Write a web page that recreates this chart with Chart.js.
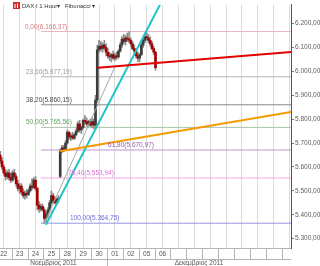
<!DOCTYPE html>
<html>
<head>
<meta charset="utf-8">
<script src="https://cdn.jsdelivr.net/npm/chart.js@4.4.0/dist/chart.umd.min.js"></script>
<style>
html, body { margin: 0; padding: 0; background: #fff; }
#wrap { width: 320px; height: 266px; position: relative; }
</style>
</head>
<body>
<div id="wrap"><canvas id="myChart"></canvas></div>
<script>
// DAX hourly candles, 9 per trading day, index 0 = 22 Nov 09:00
const HOURS = 9;
const firstCandle = 2;

const openP = [
    5650, 5625, 5600, 5575, 5560, 5575, 5555,
    5545, 5575, 5560, 5530, 5510, 5520, 5495, 5480, 5490,
    5485, 5500, 5520, 5515, 5545, 5510, 5440, 5425, 5435,
    5420, 5385, 5400, 5420, 5450, 5480, 5460, 5450, 5465,
    5560, 5665, 5680, 5675, 5700, 5745, 5725, 5730, 5720,
    5735, 5750, 5780, 5755, 5765, 5795, 5790, 5780, 5790,
    5775, 5790, 5775, 5880, 6090, 6105, 6095, 6110, 6100,
    6080, 6065, 6060, 6070, 6055, 6065, 6060, 6085, 6110,
    6135, 6125, 6140, 6135, 6130, 6115, 6095, 6085, 6065,
    6055, 6070, 6110, 6130, 6145, 6140, 6130, 6115, 6095,
    6080
];
const highP = [
    5665, 5640, 5610, 5590, 5585, 5590, 5575,
    5585, 5590, 5570, 5545, 5530, 5530, 5510, 5500, 5505,
    5510, 5530, 5550, 5555, 5560, 5515, 5455, 5445, 5445,
    5430, 5410, 5430, 5460, 5500, 5490, 5475, 5470, 5480,
    5675, 5690, 5690, 5710, 5755, 5750, 5740, 5745, 5740,
    5760, 5790, 5795, 5770, 5800, 5815, 5805, 5795, 5800,
    5805, 5800, 5900, 6110, 6130, 6125, 6120, 6130, 6115,
    6095, 6080, 6075, 6085, 6075, 6080, 6090, 6120, 6145,
    6155, 6150, 6160, 6166.37, 6140, 6125, 6110, 6095, 6080,
    6075, 6120, 6140, 6160, 6162, 6155, 6145, 6125, 6105,
    6085
];
const lowP = [
    5615, 5590, 5565, 5545, 5550, 5545, 5535,
    5540, 5550, 5520, 5500, 5490, 5485, 5470, 5465, 5470,
    5480, 5495, 5505, 5510, 5500, 5420, 5410, 5415, 5415,
    5364.75, 5370, 5390, 5410, 5440, 5450, 5445, 5440, 5450,
    5555, 5660, 5665, 5670, 5695, 5715, 5710, 5715, 5715,
    5730, 5745, 5745, 5740, 5760, 5780, 5770, 5770, 5770,
    5765, 5760, 5765, 5870, 6080, 6085, 6080, 6090, 6065,
    6055, 6045, 6040, 6050, 6045, 6050, 6055, 6080, 6100,
    6115, 6110, 6125, 6120, 6105, 6090, 6075, 6055, 6040,
    6040, 6065, 6100, 6120, 6130, 6120, 6105, 6090, 6070,
    6005
];
const closeP = [
    5625, 5600, 5575, 5560, 5575, 5555, 5545,
    5575, 5560, 5530, 5510, 5520, 5495, 5480, 5490, 5485,
    5500, 5520, 5515, 5545, 5510, 5440, 5425, 5435, 5420,
    5385, 5400, 5420, 5450, 5480, 5460, 5450, 5465, 5470,
    5665, 5680, 5675, 5700, 5745, 5725, 5730, 5720, 5735,
    5750, 5780, 5755, 5765, 5795, 5790, 5780, 5790, 5775,
    5790, 5775, 5880, 6090, 6105, 6095, 6110, 6100, 6080,
    6065, 6060, 6070, 6055, 6065, 6060, 6085, 6110, 6135,
    6125, 6140, 6135, 6130, 6115, 6095, 6085, 6065, 6055,
    6070, 6110, 6130, 6145, 6140, 6130, 6115, 6095, 6080,
    6015
];

const dayLabels = ['22', '23', '24', '25', '28', '29', '30', '01', '02', '05', '06'];
const monthLabels = ['Νοέμβριος 2011', 'Δεκέμβριος 2011'];
const monthStartDay = [0, 7];

// fibonacci retracement levels
const fibPct = [0, 23.6, 38.2, 50, 61.8, 76.4, 100];
const fibValue = [6166.37, 5977.19, 5860.15, 5765.56, 5670.97, 5553.94, 5364.75];
const fibLineColor = ['#eab4bc', '#b4b4b4', '#8a8a8a', '#a9c2a9', '#c490cc', '#f2a6ee', '#9494e2'];
const fibTextColor = ['#d77a82', '#9a9a9a', '#4a4a4a', '#5ea35e', '#9a58b0', '#e070dc', '#6a6ad8'];
const fibLabelX = [16.5, 17.1, 17.1, 17.1, 63.6, 40.9, 42.0];
const fibStart = 25.6;

// drawn trend lines [x, price]
const redLine = [[57.9, 6015], [167.3, 6081]];
const orangeLine = [[36.4, 5666], [167.3, 5830]];
const cyanLine = [[28.4, 5358], [100, 6378]];
const grayLine = [[27.5, 5364.75], [67.5, 6019]];

const yTicks = [5300, 5400, 5500, 5600, 5700, 5800, 5900, 6000, 6100, 6200];

function fmt(v) {
    const s = v.toFixed(2).split('.');
    return s[0].replace(/\B(?=(\d{3})+(?!\d))/g, '.') + ',' + s[1];
}

const cx = i => firstCandle + i + 0.5;
const toPts = arr => arr.map(p => ({x: p[0], y: p[1]}));

const datasets = [];
fibValue.forEach((v, i) => {
    datasets.push({
        type: 'line', data: [{x: fibStart, y: v}, {x: 200, y: v}],
        borderColor: fibLineColor[i], borderWidth: 1, pointRadius: 0, order: 10
    });
});
datasets.push({
    type: 'bar', grouped: false, order: 6, barThickness: 1,
    data: highP.map((h, i) => ({x: cx(i), y: [lowP[i], h]})),
    backgroundColor: '#8a8a8a'
});
datasets.push({
    type: 'bar', grouped: false, order: 5, barThickness: 2,
    data: openP.map((o, i) => ({x: cx(i), y: [o, closeP[i]]})),
    backgroundColor: openP.map((o, i) => closeP[i] >= o ? '#3c3c3c' : '#a80000')
});
datasets.push({type: 'line', data: toPts(grayLine), borderColor: '#a8a8a8', borderWidth: 1, pointRadius: 0, order: 2});
datasets.push({type: 'line', data: toPts(redLine), borderColor: '#e30000', borderWidth: 2, pointRadius: 0, order: 1});
datasets.push({type: 'line', data: toPts(orangeLine), borderColor: '#f59a00', borderWidth: 2, pointRadius: 0, order: 1});
datasets.push({type: 'line', data: toPts(cyanLine), borderColor: '#22c4c4', borderWidth: 2, pointRadius: 0, order: 1});

const FONT = '"Liberation Sans", Arial, sans-serif';

const overlay = {
    id: 'overlay',
    afterDatasetsDraw(chart) {
        const {ctx, scales: {x, y}} = chart;
        ctx.save();
        ctx.font = '6.5px ' + FONT;
        ctx.textBaseline = 'bottom';
        fibValue.forEach((v, i) => {
            const label = fibPct[i].toFixed(2).replace('.', ',') + '(' + fmt(v) + ')';
            ctx.fillStyle = fibTextColor[i];
            ctx.fillText(label, x.getPixelForValue(fibLabelX[i]), y.getPixelForValue(v) - 1.5);
        });
        ctx.restore();
    },
    afterDraw(chart) {
        const {ctx, chartArea, scales: {x}} = chart;
        const top = chartArea.bottom, mid = top + 11, bot = chart.height;
        ctx.save();
        ctx.strokeStyle = '#b5b5b5';
        ctx.lineWidth = 1;
        ctx.beginPath();
        ctx.moveTo(0, top + 0.5); ctx.lineTo(chartArea.right, top + 0.5);
        ctx.moveTo(0, mid + 0.5); ctx.lineTo(chartArea.right, mid + 0.5);
        x.ticks.forEach(t => {
            const px = Math.round(x.getPixelForValue(t.value)) + 0.5;
            ctx.moveTo(px, top); ctx.lineTo(px, mid);
        });
        const mpx = Math.round(x.getPixelForValue(monthStartDay[1] * HOURS)) + 0.5;
        ctx.moveTo(mpx, mid); ctx.lineTo(mpx, bot);
        ctx.stroke();

        ctx.fillStyle = '#555';
        ctx.font = '6.5px ' + FONT;
        ctx.textAlign = 'center';
        ctx.textBaseline = 'middle';
        dayLabels.forEach((d, k) => {
            ctx.fillText(d, x.getPixelForValue(k * HOURS + HOURS / 2), top + 6);
        });
        monthLabels.forEach((m, k) => {
            const a = Math.max(chartArea.left, x.getPixelForValue(monthStartDay[k] * HOURS));
            const b = k + 1 < monthLabels.length ? x.getPixelForValue(monthStartDay[k + 1] * HOURS) : chartArea.right;
            ctx.fillText(m, (a + b) / 2, mid + 4);
        });

        // toolbar
        ctx.fillStyle = '#d42a2a';
        ctx.fillRect(13, 2, 7, 7);
        ctx.fillStyle = '#fff';
        ctx.fillRect(14.5, 4, 1, 4);
        ctx.fillRect(17, 3.5, 1, 4.5);
        ctx.fillStyle = '#333';
        ctx.textAlign = 'left';
        ctx.font = '6px ' + FONT;
        ctx.fillText('DAX I 1 Hour▾', 22, 6);
        ctx.fillText('Fibonacci ▾', 65, 6);
        ctx.restore();
    }
};

const ctx = document.getElementById('myChart');

const myChart = new Chart(ctx, {
    type: 'bar',
    data: {datasets: datasets},
    options: {
        responsive: true,
        maintainAspectRatio: false,
        animation: false,
        layout: {padding: 0},
        plugins: {legend: {display: false}, tooltip: {enabled: false}},
        scales: {
            x: {
                type: 'linear',
                offset: false,
                min: 2.37,
                max: 167.3,
                afterBuildTicks: (s) => {
                    const t = [];
                    for (let d = 1; d * HOURS < s.max; d++) t.push({value: d * HOURS});
                    s.ticks = t;
                },
                afterFit: (s) => { s.height = 18; },
                ticks: {display: false},
                grid: {color: '#dadada', drawTicks: false},
                border: {display: false}
            },
            y: {
                position: 'right',
                min: 5261,
                max: 6277.9,
                afterBuildTicks: (s) => { s.ticks = yTicks.map(v => ({value: v})); },
                afterFit: (s) => { s.width = 29; },
                ticks: {
                    color: '#606060',
                    padding: 1,
                    font: {size: 6.5, family: FONT},
                    callback: (v) => fmt(v)
                },
                grid: {drawOnChartArea: false, tickLength: 3, color: '#777'},
                border: {display: true, color: '#555', dash: [1, 1]}
            }
        }
    },
    plugins: [overlay]
});
</script>
</body>
</html>
